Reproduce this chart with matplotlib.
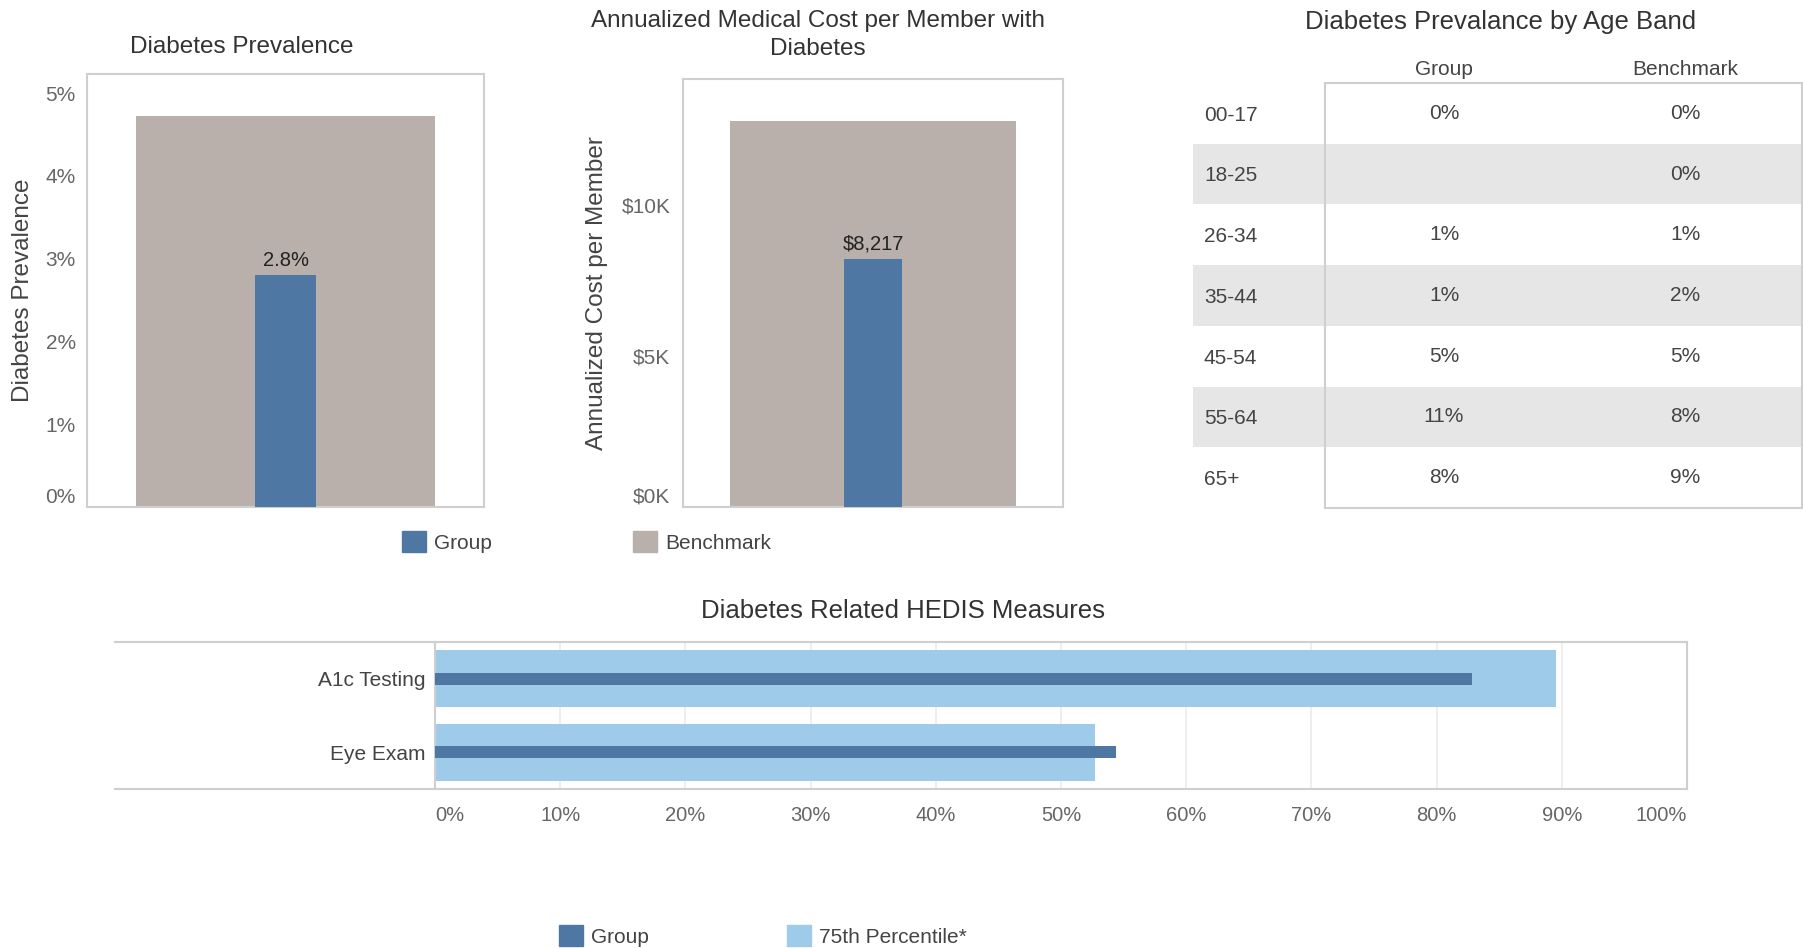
import matplotlib
matplotlib.use("Agg")
import matplotlib.pyplot as plt
from matplotlib.patches import Rectangle, Patch
from matplotlib.lines import Line2D

plt.rcParams['font.family'] = ['Liberation Sans', 'DejaVu Sans']

# ---- data ----
series_names = ["Group", "Benchmark"]

prevalence_group = 2.8
prevalence_benchmark = 4.72
prevalence_ticks = [0, 1, 2, 3, 4, 5]
prevalence_tick_labels = ["0%", "1%", "2%", "3%", "4%", "5%"]

cost_group = 8217
cost_benchmark = 12770
cost_ticks = [0, 5000, 10000]
cost_tick_labels = ["$0K", "$5K", "$10K"]

age_bands = ["00-17", "18-25", "26-34", "35-44", "45-54", "55-64", "65+"]
age_group = [0, None, 1, 1, 5, 11, 8]
age_benchmark = [0, 0, 1, 2, 5, 8, 9]

hedis_measures = ["A1c Testing", "Eye Exam"]
hedis_group = [82.8, 54.4]
hedis_p75 = [89.5, 52.7]
hedis_ticks = [0, 10, 20, 30, 40, 50, 60, 70, 80, 90, 100]
hedis_tick_labels = [f"{t}%" for t in hedis_ticks]

# ---- style ----
GROUP_C = "#4e77a4"
BENCH_C = "#b9b0ab"
P75_C = "#9fcbeb"
FRAME_C = "#cfcfcf"
TICK_C = "#666666"
TEXT_C = "#444444"
TITLE_C = "#333333"
STRIPE_C = "#e6e6e6"

W, H = 1803, 948
fig = plt.figure(figsize=(W / 100, H / 100), dpi=100)
fig.patch.set_facecolor("white")


def px_axes(x0, y0, x1, y1):
    """Axes placed by pixel box (left, top, right, bottom)."""
    return fig.add_axes([x0 / W, 1 - y1 / H, (x1 - x0) / W, (y1 - y0) / H])


def style_frame(ax):
    for s in ax.spines.values():
        s.set_color(FRAME_C)
        s.set_linewidth(1.5)


def column_chart(ax, group_val, bench_val, ticks, tick_labels, ylim, label_text, pad):
    ax.bar(0, bench_val, width=0.755, color=BENCH_C, zorder=2)
    ax.bar(0, group_val, width=0.155, color=GROUP_C, zorder=3)
    ax.annotate(label_text, (0, group_val), xytext=(0, 4), textcoords="offset points",
                ha="center", va="bottom", fontsize=14.5, color="#222222", zorder=4)
    ax.set_xlim(-0.5, 0.5)
    ax.set_ylim(0, ylim)
    ax.set_xticks([])
    ax.set_yticks(ticks)
    ax.set_yticklabels(tick_labels)
    ax.tick_params(axis="y", length=0, pad=pad, labelsize=15, labelcolor=TICK_C)
    ax.yaxis.get_major_ticks()[0].label1.set_verticalalignment("bottom")
    style_frame(ax)


# ---- Diabetes Prevalence ----
ax1 = px_axes(87, 74, 484, 507)
column_chart(ax1, prevalence_group, prevalence_benchmark, prevalence_ticks,
             prevalence_tick_labels, 5.23, f"{prevalence_group:.1f}%", 8)
fig.text(242 / W, 1 - 47 / H, "Diabetes Prevalence", ha="center", va="center",
         fontsize=17.5, color=TITLE_C)
fig.text(23 / W, 1 - 290 / H, "Diabetes Prevalence", ha="center", va="center",
         rotation=90, fontsize=17.5, color=TEXT_C)

# ---- Annualized Medical Cost ----
ax2 = px_axes(683, 79, 1063, 507)
column_chart(ax2, cost_group, cost_benchmark, cost_ticks, cost_tick_labels,
             14170, f"${cost_group:,}", 9)
fig.text(818 / W, 1 - 35 / H, "Annualized Medical Cost per Member with\nDiabetes",
         ha="center", va="center", fontsize=17.5, color=TITLE_C, linespacing=1.3)
fig.text(597 / W, 1 - 293 / H, "Annualized Cost per Member", ha="center", va="center",
         rotation=90, fontsize=17.5, color=TEXT_C)

# shared legend for the two column charts
fig.legend(handles=[Patch(color=GROUP_C), Patch(color=BENCH_C)], labels=series_names,
           loc="center left", bbox_to_anchor=(402 / W, 1 - 542 / H), ncol=2,
           frameon=False, fontsize=15, handlelength=1.15, handleheight=1.15,
           handletextpad=0.4, columnspacing=6.75, borderpad=0, borderaxespad=0,
           labelcolor=TEXT_C)

# ---- Diabetes Prevalance by Age Band (table) ----
axt = px_axes(1193, 83, 1803, 508)
axt.set_xlim(0, 1)
axt.set_ylim(len(age_bands), 0)
axt.axis("off")
box_left = 0.2164
col_group = 0.4115
col_bench = 0.8066
for i, band in enumerate(age_bands):
    if i % 2 == 1:
        axt.add_patch(Rectangle((0, i), 1, 1, facecolor=STRIPE_C, edgecolor="none", zorder=1))
    axt.text(0.018, i + 0.53, band, ha="left", va="center", fontsize=15, color=TEXT_C)
    g = age_group[i]
    axt.text(col_group, i + 0.5, "" if g is None else f"{g}%", ha="center", va="center",
             fontsize=15, color=TEXT_C)
    axt.text(col_bench, i + 0.5, f"{age_benchmark[i]}%", ha="center", va="center",
             fontsize=15, color=TEXT_C)
axt.add_patch(Rectangle((box_left, 0), 0.998 - box_left, len(age_bands), facecolor="none",
                        edgecolor=FRAME_C, linewidth=1.5, zorder=3, clip_on=False))
axt.text(col_group, -0.22, series_names[0], ha="center", va="center", fontsize=15, color=TEXT_C)
axt.text(col_bench, -0.22, series_names[1], ha="center", va="center", fontsize=15, color=TEXT_C)
fig.text(1501 / W, 1 - 22 / H, "Diabetes Prevalance by Age Band", ha="center", va="center",
         fontsize=18.5, color=TITLE_C)

# ---- Diabetes Related HEDIS Measures ----
ax3 = px_axes(435, 642, 1687, 789)
ypos = list(range(len(hedis_measures)))
ax3.barh(ypos, hedis_p75, height=0.78, color=P75_C, zorder=2)
ax3.barh(ypos, hedis_group, height=0.17, color=GROUP_C, zorder=3)
ax3.set_xlim(0, 100)
ax3.set_ylim(1.5, -0.5)
ax3.set_yticks(ypos)
ax3.set_yticklabels(hedis_measures)
ax3.set_xticks(hedis_ticks)
ax3.set_xticklabels(hedis_tick_labels)
ax3.tick_params(axis="y", length=0, pad=7, labelsize=15, labelcolor=TEXT_C)
ax3.tick_params(axis="x", length=0, pad=12, labelsize=14.5, labelcolor=TICK_C)
xt = ax3.xaxis.get_major_ticks()
xt[0].label1.set_horizontalalignment("left")
xt[-1].label1.set_horizontalalignment("right")
ax3.grid(axis="x", color="#ebebeb", linewidth=1.2, zorder=0)
ax3.set_axisbelow(True)
style_frame(ax3)
# top and bottom rules continue under the category labels
for yy in (642, 789):
    fig.add_artist(Line2D([115 / W, 435 / W], [1 - yy / H, 1 - yy / H], color=FRAME_C,
                          linewidth=1.5, transform=fig.transFigure))
fig.text(903 / W, 1 - 611 / H, "Diabetes Related HEDIS Measures", ha="center", va="center",
         fontsize=18.5, color=TITLE_C)
fig.legend(handles=[Patch(color=GROUP_C), Patch(color=P75_C)],
           labels=[series_names[0], "75th Percentile*"],
           loc="center left", bbox_to_anchor=(559 / W, 1 - 936 / H), ncol=2,
           frameon=False, fontsize=15, handlelength=1.15, handleheight=1.15,
           handletextpad=0.4, columnspacing=6.6, borderpad=0, borderaxespad=0,
           labelcolor=TEXT_C)

fig.savefig("out.png", dpi=100)
